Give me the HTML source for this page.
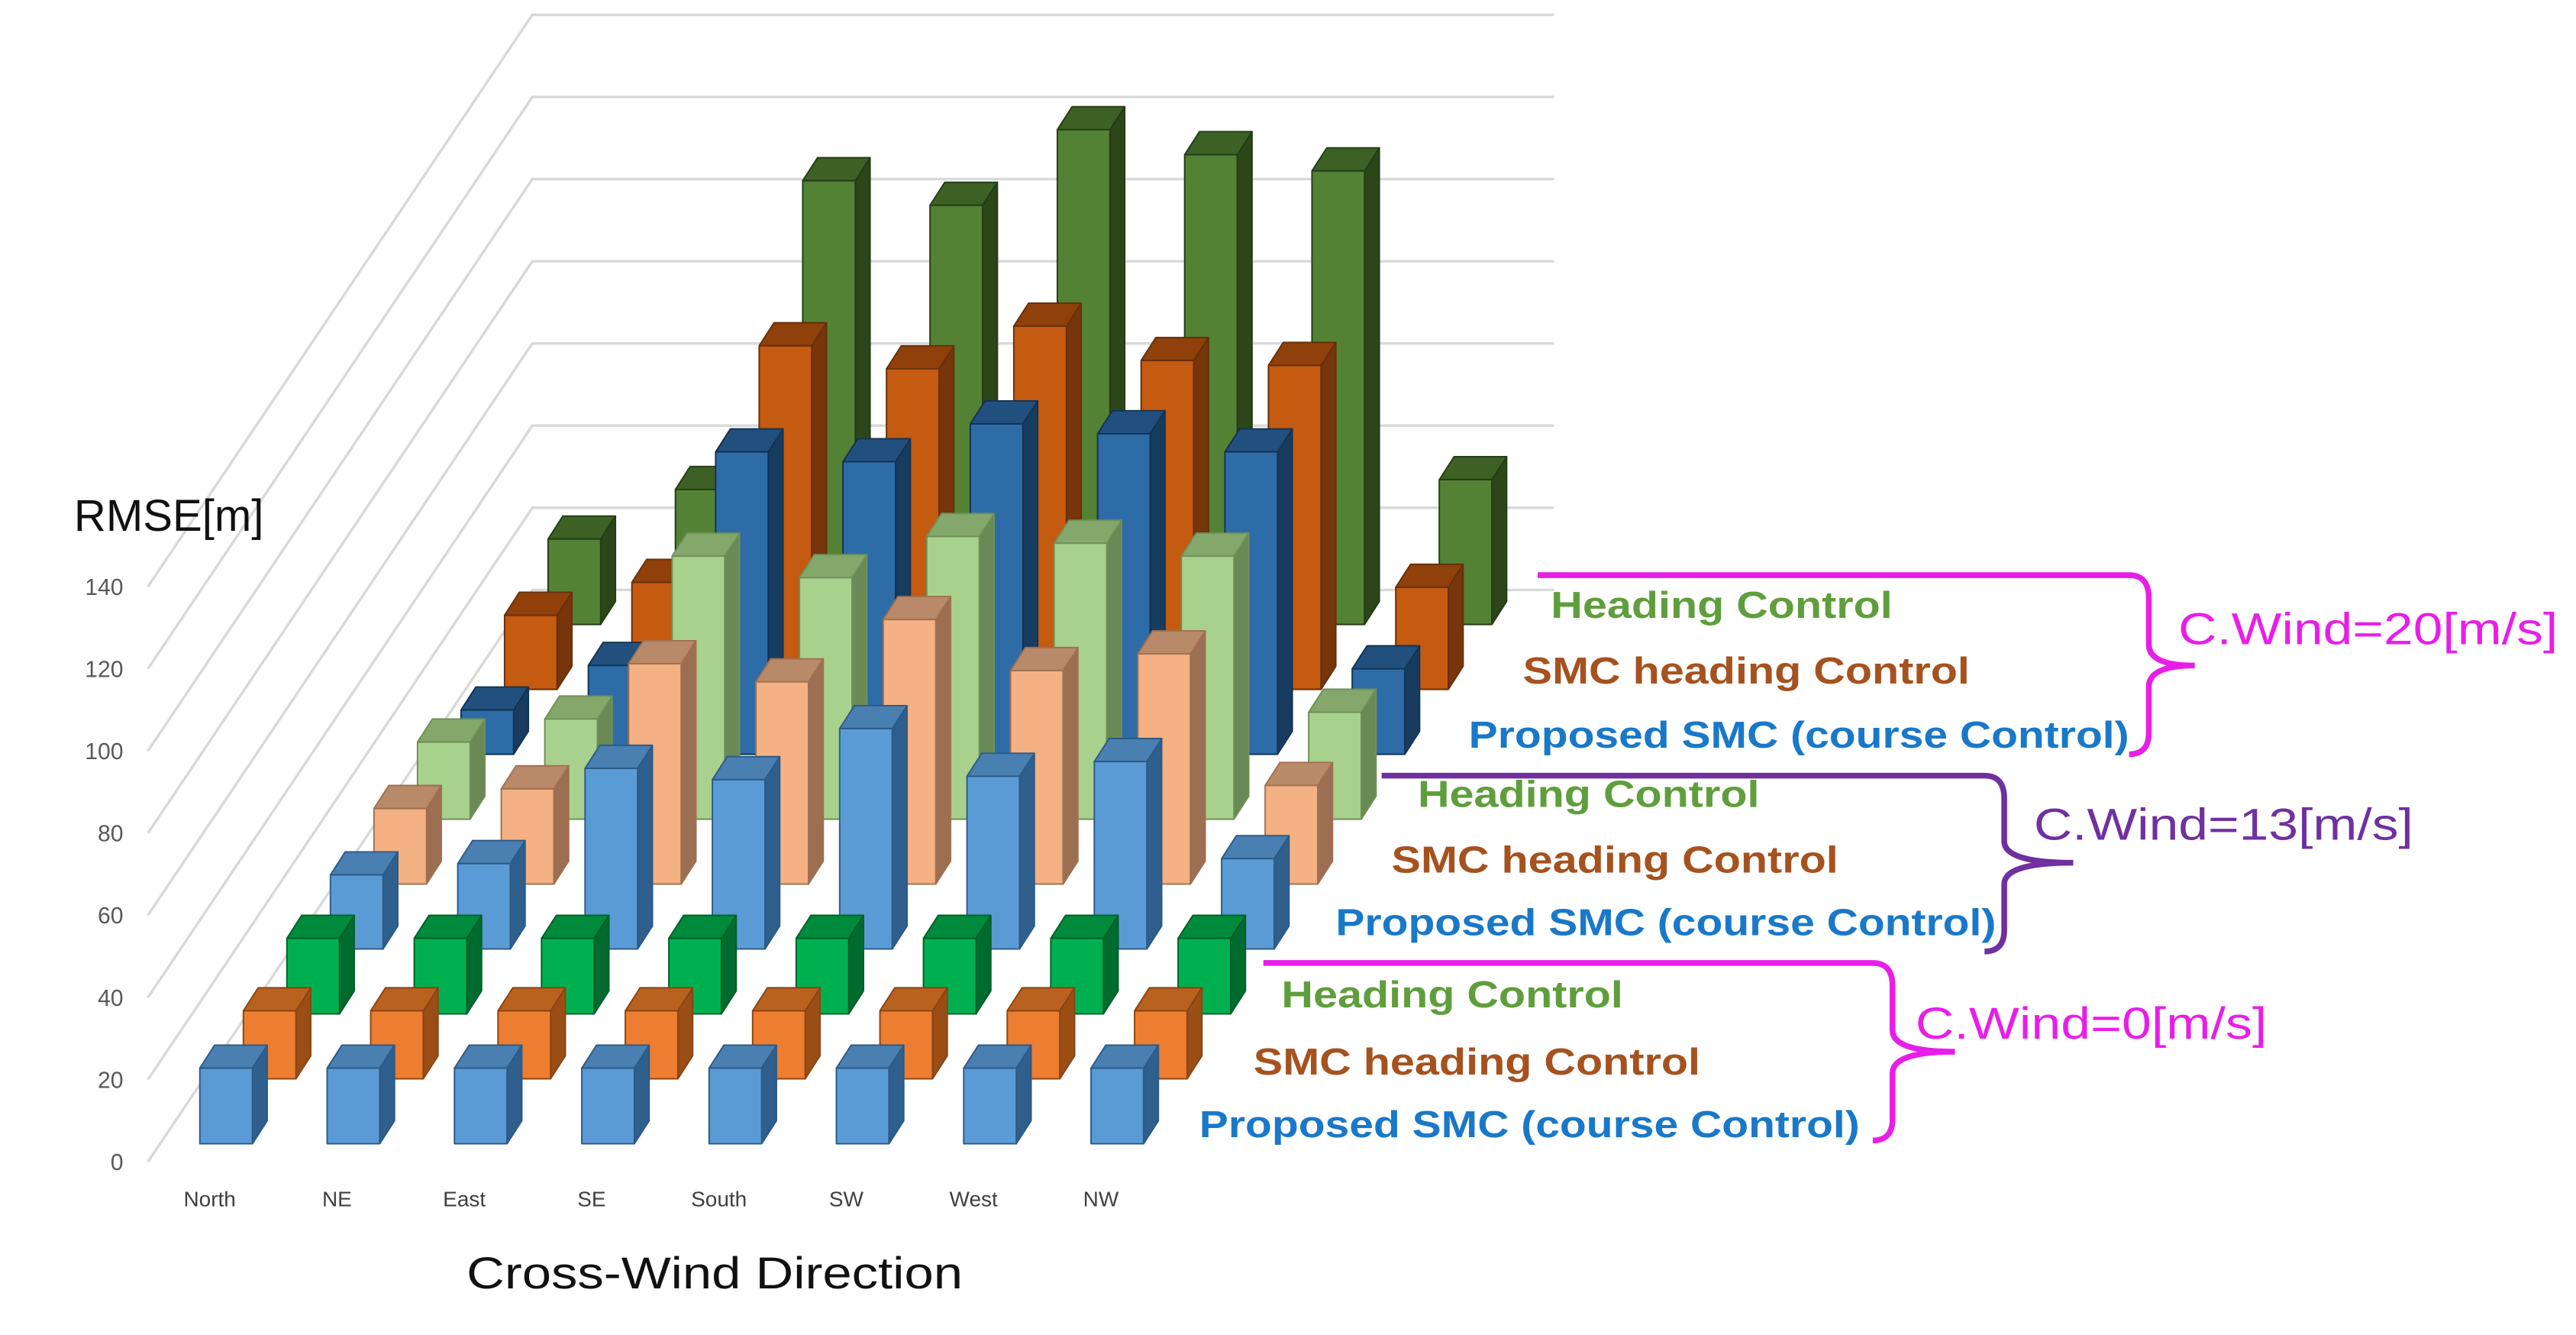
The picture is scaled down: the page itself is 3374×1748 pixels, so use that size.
<!DOCTYPE html>
<html><head><meta charset="utf-8"><title>RMSE 3D bar chart</title>
<style>
html,body{margin:0;padding:0;background:#fff;}
svg{display:block;}
text{font-family:"Liberation Sans",sans-serif;}
</style></head>
<body>
<svg id="chart" width="3374" height="1748" viewBox="0 0 1568 812.4" xmlns="http://www.w3.org/2000/svg">
  <g id="grid"></g>
  <g id="yticks"></g>
  <text x="45" y="323" font-size="27" fill="#111">RMSE[m]</text>
  <g id="bars"></g>
  <g id="xticks"></g>
  <text x="435" y="784" font-size="27" fill="#111" text-anchor="middle" textLength="302" lengthAdjust="spacingAndGlyphs">Cross-Wind Direction</text>

  <g>
    <path d="M936,350 H1296 Q1308,350 1308,364 V392 Q1308,405 1336,405 Q1308,405 1308,418 V446 Q1308,459 1296,459" fill="none" stroke="#e81ee8" stroke-width="3.5"/>
    <text x="944" y="376" font-size="23" font-weight="bold" fill="#5f9e3c" textLength="208" lengthAdjust="spacingAndGlyphs">Heading Control</text>
    <text x="927" y="416" font-size="23" font-weight="bold" fill="#a6521f" textLength="272" lengthAdjust="spacingAndGlyphs">SMC heading Control</text>
    <text x="894" y="455" font-size="23" font-weight="bold" fill="#1a78c8" textLength="402" lengthAdjust="spacingAndGlyphs">Proposed SMC (course Control)</text>
    <text x="1326" y="392" font-size="27" fill="#e81ee8" textLength="231" lengthAdjust="spacingAndGlyphs">C.Wind=20[m/s]</text>
  </g>
  <g>
    <path d="M841,472 H1208 Q1220,472 1220,486 V512 Q1220,525 1262,525 Q1220,525 1220,538 V566 Q1220,579 1208,579" fill="none" stroke="#7030a0" stroke-width="3.5"/>
    <text x="863" y="491" font-size="23" font-weight="bold" fill="#5f9e3c" textLength="208" lengthAdjust="spacingAndGlyphs">Heading Control</text>
    <text x="847" y="531" font-size="23" font-weight="bold" fill="#a6521f" textLength="272" lengthAdjust="spacingAndGlyphs">SMC heading Control</text>
    <text x="813" y="569" font-size="23" font-weight="bold" fill="#1a78c8" textLength="402" lengthAdjust="spacingAndGlyphs">Proposed SMC (course Control)</text>
    <text x="1238" y="511" font-size="27" fill="#7030a0" textLength="231" lengthAdjust="spacingAndGlyphs">C.Wind=13[m/s]</text>
  </g>
  <g>
    <path d="M769,586 H1140 Q1152,586 1152,600 V627 Q1152,640 1190,640 Q1152,640 1152,653 V681 Q1152,694 1140,694" fill="none" stroke="#e81ee8" stroke-width="3.5"/>
    <text x="780" y="613" font-size="23" font-weight="bold" fill="#5f9e3c" textLength="208" lengthAdjust="spacingAndGlyphs">Heading Control</text>
    <text x="763" y="654" font-size="23" font-weight="bold" fill="#a6521f" textLength="272" lengthAdjust="spacingAndGlyphs">SMC heading Control</text>
    <text x="730" y="692" font-size="23" font-weight="bold" fill="#1a78c8" textLength="402" lengthAdjust="spacingAndGlyphs">Proposed SMC (course Control)</text>
    <text x="1166" y="632" font-size="27" fill="#e81ee8" textLength="214" lengthAdjust="spacingAndGlyphs">C.Wind=0[m/s]</text>
  </g>
</svg>
<script>
const categories = ["North","NE","East","SE","South","SW","West","NW"];
const seriesNames = ["Proposed SMC 0","SMC heading 0","Heading 0","Proposed SMC 13","SMC heading 13","Heading 13","Proposed SMC 20","SMC heading 20","Heading 20"];
const proposed0 = [20,20,20,20,20,20,20,20];
const smc0 = [18,18,18,18,18,18,18,18];
const heading0 = [20,20,20,20,20,20,20,20];
const proposed13 = [19.6,22.6,47.8,44.8,58.3,45.7,49.6,23.9];
const smc13 = [20,25.2,58.3,53.5,70,56.5,60.9,26.1];
const heading13 = [20.4,26.5,69.6,63.9,74.8,73,69.6,28.3];
const proposed20 = [11.7,23.5,80,77.4,87.4,84.8,80,22.6];
const smc20 = [19.6,28.3,90.9,84.8,96.1,87,85.7,27];
const heading20 = [22.6,35.7,117.4,110.9,130.9,124.3,120,38.3];
const yTickLabels = ["0","20","40","60","80","100","120","140"];

const seriesData = [proposed0,smc0,heading0,proposed13,smc13,heading13,proposed20,smc20,heading20];
const palette = [
  ["#5b9bd5","#4a7fb2","#2f5f8d","#2c5a86"],
  ["#ed7d31","#b9611f","#9a4e16","#8a4412"],
  ["#00b050","#008a3c","#006b2e","#006028"],
  ["#5b9bd5","#4a7fb2","#2f5f8d","#2c5a86"],
  ["#f4b183","#b98a6a","#9c6e52","#a07050"],
  ["#a9d18e","#84a86c","#6a8a55","#6f9058"],
  ["#2e6ca8","#22507e","#173c60","#133352"],
  ["#c55a11","#8f400b","#76350a","#66300a"],
  ["#548235","#3d6125","#2b471a","#243c16"]
];
const NS = "http://www.w3.org/2000/svg";
const X0 = 121.6, COLW = 77.5, ROWDX = 26.5, ROWDY = 39.5, BASE0 = 696, PXU = 2.3;
const BW = 32, SDX = 9, SDY = 14;
function xPos(r, c){ return X0 + ROWDX*r + COLW*c; }
function yBase(r){ return BASE0 - ROWDY*r; }
function hPx(v){ return v*PXU; }

const grid = document.getElementById('grid');
for (let k = 0; k < yTickLabels.length; k++) {
  const yf = 707 - 50*k, yb = yf - 348;
  const l = document.createElementNS(NS,'polyline');
  
  
  l.setAttribute('points', `90,${yf} 324,${yb} 946,${yb}`);
  l.setAttribute('fill','none'); l.setAttribute('stroke','#d9d9d9'); l.setAttribute('stroke-width','1.6');
  grid.appendChild(l);
  const t = document.createElementNS(NS,'text');
  
  
  t.setAttribute('x', 75); t.setAttribute('y', yf + 5);
  t.setAttribute('text-anchor','end'); t.setAttribute('font-size','14'); t.setAttribute('fill','#595959');
  t.textContent = yTickLabels[k];
  document.getElementById('yticks').appendChild(t);
}

const bars = document.getElementById('bars');
for (let r = seriesData.length - 1; r >= 0; r--) {
  for (let c = 0; c < categories.length; c++) {
    const x = xPos(r,c), yb = yBase(r), h = hPx(seriesData[r][c]), yt = yb - h;
    const col = palette[r];
    const g = document.createElementNS(NS,'g');
    
    
    g.setAttribute('stroke', col[3]);
    g.setAttribute('stroke-width','0.9');
    g.setAttribute('stroke-linejoin','round');
    const side = document.createElementNS(NS,'polygon');
    side.setAttribute('points', `${x+BW},${yb} ${x+BW+SDX},${yb-SDY} ${x+BW+SDX},${yt-SDY} ${x+BW},${yt}`);
    side.setAttribute('fill', col[2]);
    const top = document.createElementNS(NS,'polygon');
    top.setAttribute('points', `${x},${yt} ${x+SDX},${yt-SDY} ${x+BW+SDX},${yt-SDY} ${x+BW},${yt}`);
    top.setAttribute('fill', col[1]);
    const front = document.createElementNS(NS,'rect');
    front.setAttribute('x', x); front.setAttribute('y', yt);
    front.setAttribute('width', BW); front.setAttribute('height', h);
    front.setAttribute('fill', col[0]);
    g.appendChild(side); g.appendChild(top); g.appendChild(front);
    bars.appendChild(g);
  }
}

const xt = document.getElementById('xticks');
for (let c = 0; c < categories.length; c++) {
  const t = document.createElementNS(NS,'text');
  
  
  t.setAttribute('x', xPos(0,c) + 6); t.setAttribute('y', 734);
  t.setAttribute('text-anchor','middle'); t.setAttribute('font-size','13'); t.setAttribute('fill','#404040');
  t.textContent = categories[c];
  xt.appendChild(t);
}
</script>
</body></html>
